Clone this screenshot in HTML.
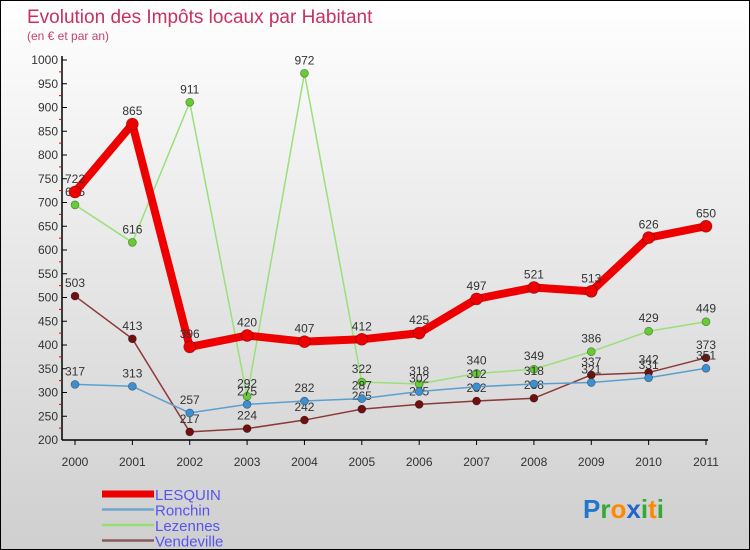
<!DOCTYPE html>
<html><head><meta charset="utf-8"><style>
html,body{margin:0;padding:0}
body{width:750px;height:550px;overflow:hidden;font-family:"Liberation Sans",sans-serif}
#wrap{position:relative;width:748px;height:548px;border:1px solid #000;background:linear-gradient(#ffffff 0%,#e6e6e6 50%,#cfcfcf 100%)}
</style></head><body>
<div id="wrap">
<svg id="chart" width="748" height="548" style="position:absolute;left:0;top:0"></svg>
</div>
<script>
const years=["2000","2001","2002","2003","2004","2005","2006","2007","2008","2009","2010","2011"];
const lesquin=[722,865,396,420,407,412,425,497,521,513,626,650];
const ronchin=[317,313,257,275,282,287,302,312,318,321,331,351];
const lezennes=[695,616,911,292,972,322,318,340,349,386,429,449];
const vendeville=[503,413,217,224,242,265,275,282,288,337,342,373];
const yTicks=[200,250,300,350,400,450,500,550,600,650,700,750,800,850,900,950,1000];
const NS="http://www.w3.org/2000/svg";
const svg=document.getElementById('chart');
const x=i=>74+i*(705-74)/11;
const y=v=>439-(v-200)*(380/800);
function mk(tag,attrs,parent){const e=document.createElementNS(NS,tag);for(const k in attrs)e.setAttribute(k,attrs[k]);(parent||svg).appendChild(e);return e;}
let t=mk('text',{x:26,y:22,fill:'#c8305e','font-size':19});t.textContent='Evolution des Impôts locaux par Habitant';


t=mk('text',{x:26,y:39,fill:'#c8406e','font-size':12});t.textContent='(en € et par an)';


// axes
let ax=mk('line',{x1:61,y1:55,x2:61,y2:439,stroke:'#000','stroke-width':1.5});


ax=mk('line',{x1:61,y1:439,x2:707,y2:439,stroke:'#000','stroke-width':1.5});


yTicks.forEach((v,i)=>{
  mk('line',{x1:61,y1:y(v),x2:66,y2:y(v),stroke:'#000'});
  if(i<yTicks.length-1)mk('line',{x1:58,y1:y(v+25),x2:61,y2:y(v+25),stroke:'#d00'});
  const l=mk('text',{x:57,y:y(v)+4,'text-anchor':'end','font-size':12,fill:'#333'});l.textContent=v;
  
  
});
years.forEach((yr,i)=>{
  mk('line',{x1:x(i),y1:439,x2:x(i),y2:444,stroke:'#000'});
  const l=mk('text',{x:x(i),y:465,'text-anchor':'middle','font-size':12,fill:'#333'});l.textContent=yr;
  
  
});
function series(data,color,dot,w,r,name){
  const g=mk('g',{});
  
  
  mk('polyline',{points:data.map((v,i)=>x(i)+','+y(v)).join(' '),fill:'none',stroke:color,'stroke-width':w,'stroke-linejoin':'round'},g);
  data.forEach((v,i)=>{
    const c=mk('circle',{cx:x(i),cy:y(v),r:r,fill:dot,stroke:'rgba(0,0,0,0.4)','stroke-width':0.7},g);
    
    
    const l=mk('text',{x:x(i),y:y(v)-9,'text-anchor':'middle','font-size':12,fill:'#333'},g);l.textContent=v;
    
    
  });
}
series(vendeville,'#8b3a3a','#6e1010',1.5,4,'vendeville');
series(lezennes,'#99e07a','#66cc33',1.5,4,'lezennes');
series(ronchin,'#5b9fd0','#3d8fd0',1.5,4,'ronchin');
series(lesquin,'#ee0000','#ee0000',8,6,'lesquin');
// legend
const leg=[['LESQUIN','#ee0000',7],['Ronchin','#6fa5cf',2.5],['Lezennes','#99dd77',2.5],['Vendeville','#8b5a5a',2.5]];
leg.forEach((d,i)=>{
  const g=mk('g',{});
  
  
  const yy=493+i*15.5;
  mk('line',{x1:101,y1:yy,x2:153,y2:yy,stroke:d[1],'stroke-width':d[2]},g);
  const l=mk('text',{x:154,y:yy+6,'font-size':15,fill:'#5555ee'},g);l.textContent=d[0];
});
// logo
const lg=mk('text',{x:582,y:517,'font-size':26,'font-weight':'bold'});


[['P','#2277cc'],['r','#33aa33'],['o','#ff8800'],['x','#2266cc'],['i','#33aa33'],['t','#ff8800'],['i','#33aa33']].forEach(p=>{const s=mk('tspan',{fill:p[1]},lg);s.textContent=p[0];});
</script>
</body></html>
